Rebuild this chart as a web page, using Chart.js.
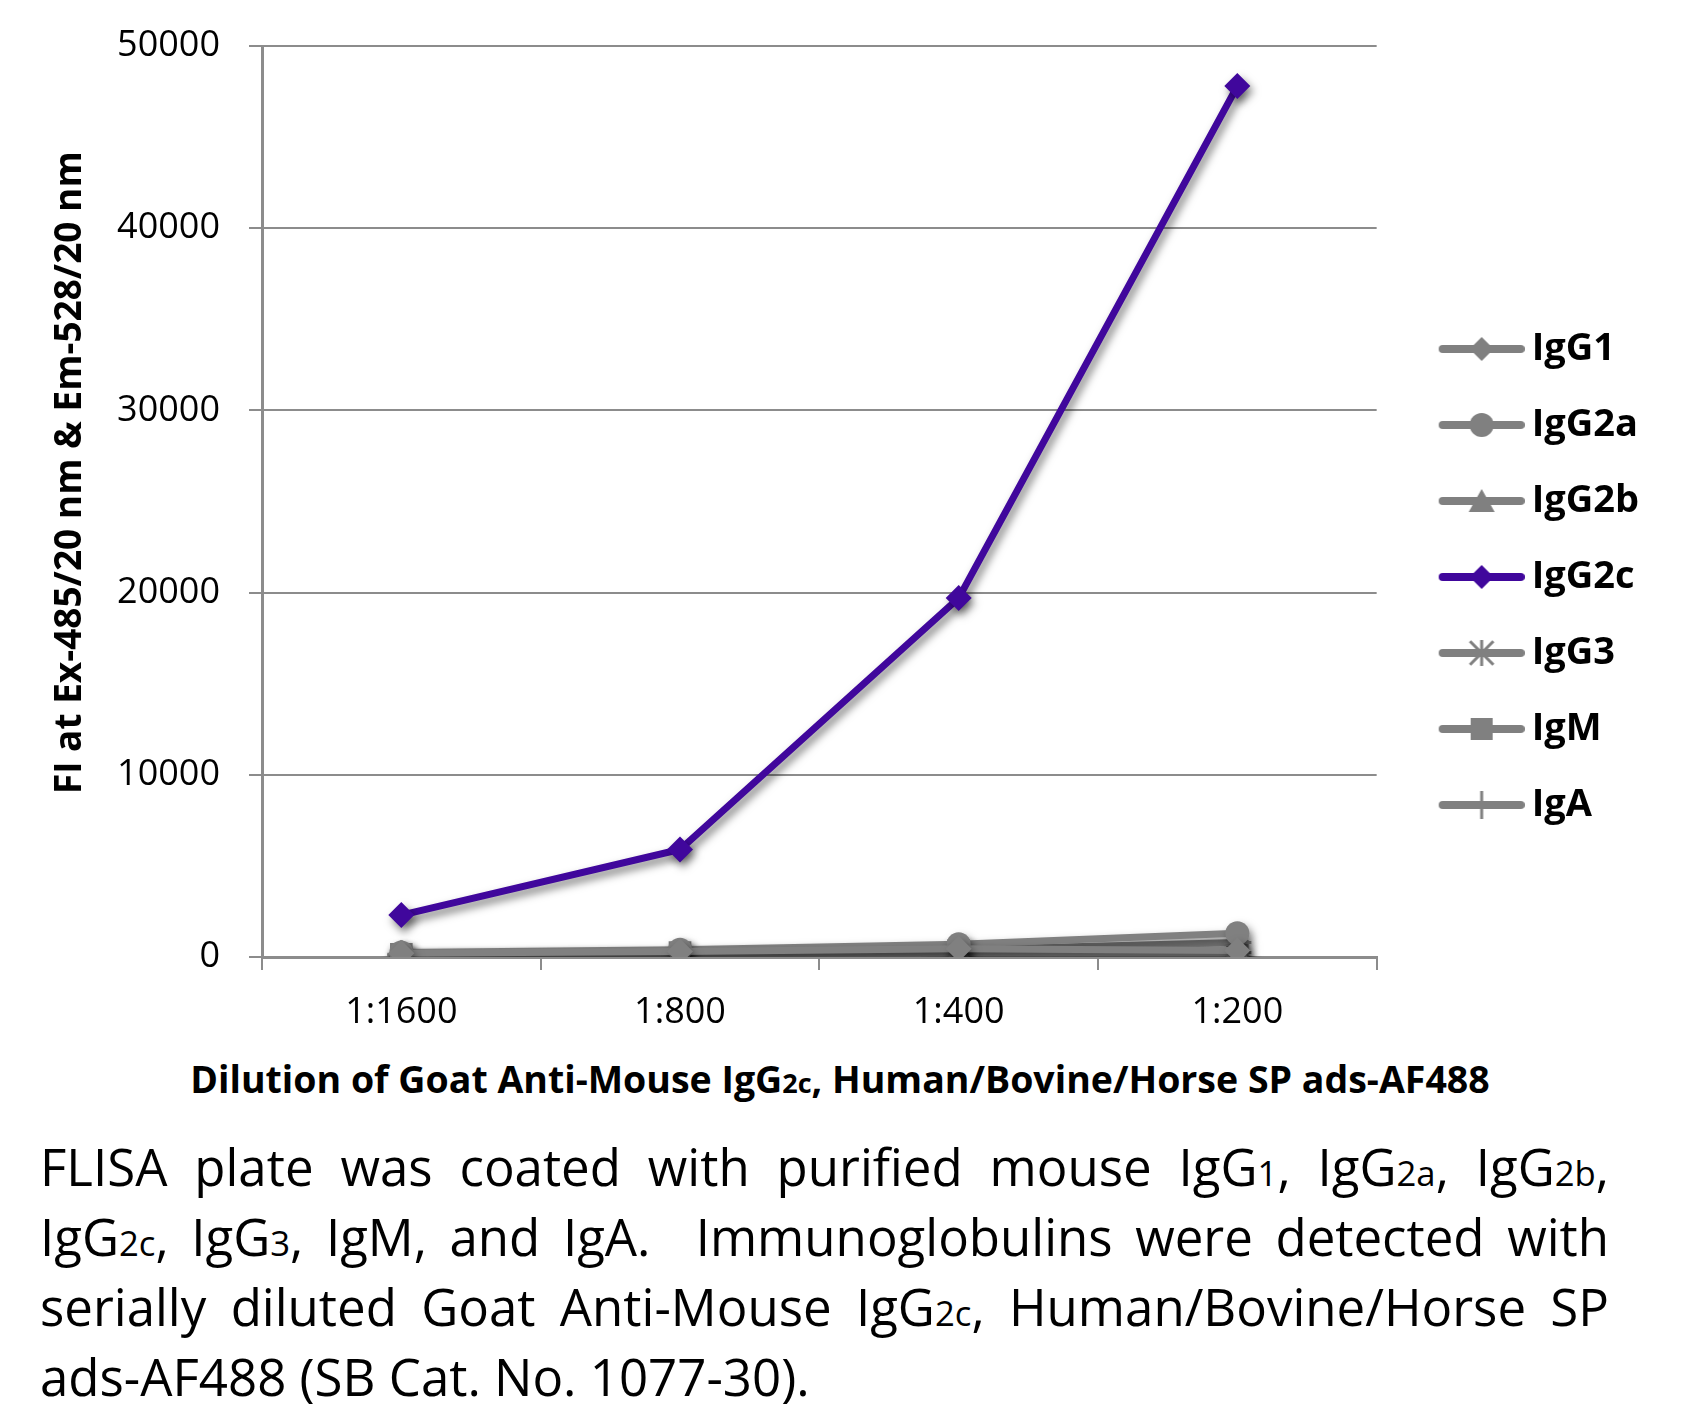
<!DOCTYPE html>
<html>
<head>
<meta charset="utf-8">
<script src="https://cdn.jsdelivr.net/npm/chart.js@4/dist/chart.umd.min.js"></script>
<style>
  html, body { margin: 0; padding: 0; background: #fff; }
  #wrap { position: relative; width: 1685px; height: 1410px; overflow: hidden; }
  #c { position: absolute; left: 0; top: 0; }
  #xtitle { position: absolute; left: 840px; top: 1054px; transform: translateX(-50%); white-space: nowrap;
            font: 700 37.5px "Open Sans", sans-serif; color: #000; line-height: 50px; }
  #xtitle .s { font-size: 0.72em; line-height: 0; }
  #caption { position: absolute; left: 40px; top: 1131px; width: 1569px; font: 400 51px "Open Sans", sans-serif;
             line-height: 70px; color: #000; }
  #caption .ln { text-align: justify; text-align-last: justify; white-space: nowrap; height: 70px; }
  #caption .last { text-align: left; text-align-last: left; }
  #caption .s { font-size: 0.68em; line-height: 0; }
</style>
</head>
<body>
<div id="wrap">
  <canvas id="c" width="1685" height="1040"></canvas>
  <div id="xtitle">Dilution of Goat Anti-Mouse IgG<span class="s">2c</span>, Human/Bovine/Horse SP ads-AF488</div>
  <div id="caption">
    <div class="ln">FLISA plate was coated with purified mouse IgG<span class="s">1</span>, IgG<span class="s">2a</span>, IgG<span class="s">2b</span>,</div>
    <div class="ln">IgG<span class="s">2c</span>, IgG<span class="s">3</span>, IgM, and IgA.&nbsp; Immunoglobulins were detected with</div>
    <div class="ln">serially diluted Goat Anti-Mouse IgG<span class="s">2c</span>, Human/Bovine/Horse SP</div>
    <div class="ln last">ads-AF488 (SB Cat. No. 1077-30).</div>
  </div>
</div>
<script>
// ---- data ----
const categories = ['1:1600', '1:800', '1:400', '1:200'];
const seriesNames = ['IgG1', 'IgG2a', 'IgG2b', 'IgG2c', 'IgG3', 'IgM', 'IgA'];
const igG1  = [200, 300, 450, 350];
const igG2a = [250, 400, 700, 1300];
const igG2b = [100, 150, 200, 200];
const igG2c = [2300, 5900, 19700, 47800];
const igG3  = [150, 250, 400, 800];
const igM   = [150, 250, 350, 300];
const igA   = [100, 200, 250, 250];
const yTickValues = [0, 10000, 20000, 30000, 40000, 50000];
const yTitle = 'FI at Ex-485/20 nm & Em-528/20 nm';

const GRAY = '#808080';
const PURPLE = '#40079c';
const seriesValues = [igG1, igG2a, igG2b, igG2c, igG3, igM, igA];
const seriesColors = [GRAY, GRAY, GRAY, PURPLE, GRAY, GRAY, GRAY];
const seriesMarkers = ['rectRot', 'circle', 'triangle', 'rectRot', 'star', 'rect', 'cross'];

function markerRadius(style) {
  if (style === 'rectRot') return 13;
  if (style === 'circle') return 12;
  if (style === 'triangle') return 14;
  if (style === 'star') return 14;
  if (style === 'cross') return 14;
  if (style === 'rect') return 16;
  return 12;
}
const strokeOnly = s => s === 'star' || s === 'cross';

// legend sample: line + marker
function makeSample(color, style) {
  const cv = document.createElement('canvas');
  cv.width = 122; cv.height = 34;
  const g = cv.getContext('2d');
  const x0 = 40, x1 = 118, cy = 17, cx = (x0 + x1) / 2;
  g.strokeStyle = color; g.fillStyle = color;
  g.lineWidth = 8; g.lineCap = 'round';
  g.beginPath(); g.moveTo(x0, cy); g.lineTo(x1, cy); g.stroke();
  g.lineCap = 'butt';
  g.beginPath();
  if (style === 'rectRot') {
    const r = 12;
    g.moveTo(cx, cy - r); g.lineTo(cx + r, cy); g.lineTo(cx, cy + r); g.lineTo(cx - r, cy); g.closePath(); g.fill();
  } else if (style === 'circle') {
    g.arc(cx, cy, 12, 0, Math.PI * 2); g.fill();
  } else if (style === 'triangle') {
    g.moveTo(cx, cy - 12); g.lineTo(cx + 13, cy + 11); g.lineTo(cx - 13, cy + 11); g.closePath(); g.fill();
  } else if (style === 'rect') {
    g.rect(cx - 11, cy - 11, 22, 22); g.fill();
  } else if (style === 'star') {
    g.lineWidth = 3;
    const r = 13;
    g.moveTo(cx - r * 0.9, cy - r * 0.9); g.lineTo(cx + r * 0.9, cy + r * 0.9);
    g.moveTo(cx + r * 0.9, cy - r * 0.9); g.lineTo(cx - r * 0.9, cy + r * 0.9);
    g.moveTo(cx, cy - r); g.lineTo(cx, cy + r);
    g.stroke();
  } else if (style === 'cross') {
    g.lineWidth = 3;
    g.moveTo(cx, cy - 14); g.lineTo(cx, cy + 14); g.stroke();
  }
  return cv;
}

const datasets = seriesNames.map((name, i) => {
  const st = seriesMarkers[i];
  return {
    label: name,
    data: seriesValues[i],
    borderColor: seriesColors[i],
    backgroundColor: seriesColors[i],
    borderWidth: 7,
    pointStyle: st,
    pointRadius: markerRadius(st),
    pointHoverRadius: markerRadius(st),
    pointBackgroundColor: strokeOnly(st) ? 'transparent' : seriesColors[i],
    pointBorderColor: seriesColors[i],
    pointBorderWidth: strokeOnly(st) ? 3 : 0,
    tension: 0,
    fill: false
  };
});

const shadowPlugin = {
  id: 'shadow',
  beforeDatasetDraw(chart) {
    const ctx = chart.ctx;
    ctx.save();
    ctx.shadowColor = 'rgba(0,0,0,0.5)';
    ctx.shadowBlur = 9;
    ctx.shadowOffsetX = 3;
    ctx.shadowOffsetY = 5;
  },
  afterDatasetDraw(chart) { chart.ctx.restore(); }
};

new Chart(document.getElementById('c'), {
  type: 'line',
  data: { labels: categories, datasets },
  plugins: [shadowPlugin],
  options: {
    responsive: false,
    animation: false,
    events: [],
    layout: { padding: { left: 0, top: 46, right: 36, bottom: 9 } },
    plugins: {
      tooltip: { enabled: false },
      legend: {
        position: 'right',
        align: 'start',
        title: { display: true, text: ' ', font: { size: 10 }, padding: { top: 234, bottom: 0 } },
        labels: {
          usePointStyle: true,
          pointStyleWidth: 98,
          boxHeight: 38,
          padding: 38,
          color: '#000',
          font: { family: '"Open Sans", sans-serif', size: 38, weight: 'bold' },
          generateLabels(chart) {
            const items = Chart.defaults.plugins.legend.labels.generateLabels(chart);
            return items.map((it, i) => Object.assign(it, {
              pointStyle: makeSample(seriesColors[i], seriesMarkers[i])
            }));
          }
        }
      }
    },
    scales: {
      x: {
        offset: true,
        grid: { display: true, offset: true, drawOnChartArea: false, drawTicks: true, tickLength: 13, color: '#8c8c8c', lineWidth: 2 },
        border: { display: true, color: '#8c8c8c', width: 3 },
        ticks: { color: '#000', padding: 21, font: { family: '"Open Sans", sans-serif', size: 36 } },
        afterFit(scale) { scale.height = 74; }
      },
      y: {
        min: 0, max: 50000,
        afterBuildTicks(scale) { scale.ticks = yTickValues.map(v => ({ value: v })); },
        grid: { color: '#8c8c8c', lineWidth: 2, tickLength: 13, drawTicks: true },
        border: { display: true, color: '#8c8c8c', width: 3 },
        ticks: { color: '#000', padding: 29, font: { family: '"Open Sans", sans-serif', size: 36 },
                 callback: v => String(v) },
        title: {
          display: true,
          text: '\u00A0\u00A0\u00A0\u00A0\u00A0\u00A0' + yTitle,
          color: '#000',
          padding: { top: 48, bottom: 0 },
          font: { family: '"Open Sans", sans-serif', size: 37, weight: 'bold' }
        },
        afterFit(scale) { scale.width = 262; scale.paddingTop = 0; scale.paddingBottom = 0; }
      }
    }
  }
});
</script>
</body>
</html>
